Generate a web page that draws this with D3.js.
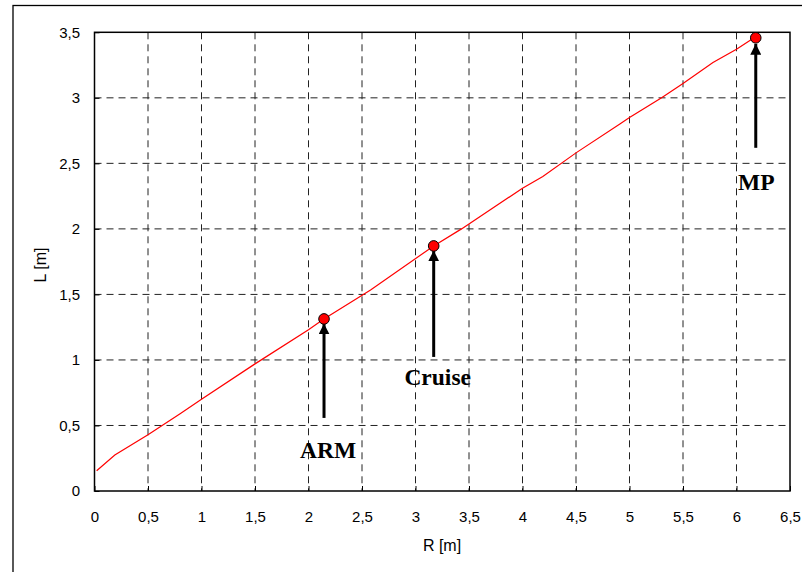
<!DOCTYPE html>
<html><head><meta charset="utf-8">
<script src="https://cdn.jsdelivr.net/npm/d3@7"></script>
<style>html,body{margin:0;padding:0;background:#fff;}svg{display:block;}</style>
</head><body>
<script>
// Data
const curveR = [0.02, 0.19, 0.5, 0.8, 1.0, 1.5, 2.0, 2.14, 2.58, 3.17, 3.43, 4.0, 4.19, 4.5, 4.91, 5.0, 5.3, 5.5, 5.78, 6.0, 6.15];
const curveL = [0.155, 0.275, 0.43, 0.59, 0.70, 0.97, 1.23, 1.31, 1.534, 1.87, 2.0, 2.31, 2.40, 2.58, 2.80, 2.85, 3.0, 3.11, 3.27, 3.37, 3.45];
const pointNames = ["ARM", "Cruise", "MP"];
const pointR = [2.145, 3.17, 6.18];
const pointL = [1.313, 1.87, 3.458];
const xTicks = [0, 0.5, 1, 1.5, 2, 2.5, 3, 3.5, 4, 4.5, 5, 5.5, 6, 6.5];
const yTicks = [0, 0.5, 1, 1.5, 2, 2.5, 3, 3.5];
const xTitle = "R [m]", yTitle = "L [m]";

// Annotation layout (pixel offsets from each point)
const annot = {
  ARM:    {tip: 4.5, tail: 99, label: 139, dx: 4},
  Cruise: {tip: 4.5, tail: 111, label: 139, dx: 4},
  MP:     {tip: 6, tail: 110, label: 152, dx: 0.5}
};

const W = 802, H = 572;
const m = {left: 94.5, top: 32.3, right: 790, bottom: 491};
const svg = d3.select("body").append("svg").attr("width", W).attr("height", H);
const fmt = d => String(d).replace(".", ",");

const x = d3.scaleLinear().domain([0, 6.5]).range([m.left, m.right]);
const y = d3.scaleLinear().domain([0, 3.5]).range([m.bottom, m.top]);

// outer border
svg.append("rect").attr("x", 13).attr("y", 5.5).attr("width", 820).attr("height", 600)
  .attr("fill", "none").attr("stroke", "#000").attr("stroke-width", 1.3);

// grid
const g = svg.append("g");
g.selectAll(".vg").data(xTicks.slice(1, -1)).enter().append("line")
  .attr("x1", d => x(d)).attr("x2", d => x(d)).attr("y1", m.top).attr("y2", m.bottom)
  .attr("stroke", "#222").attr("stroke-width", 1).attr("stroke-dasharray", "7,5");
g.selectAll(".hg").data(yTicks.slice(1, -1)).enter().append("line")
  .attr("y1", d => y(d)).attr("y2", d => y(d)).attr("x1", m.left).attr("x2", m.right)
  .attr("stroke", "#222").attr("stroke-width", 1).attr("stroke-dasharray", "7,5");

// axes
const xAxis = d3.axisBottom(x).tickValues(xTicks).tickFormat(fmt).tickSizeInner(-5).tickSizeOuter(0).tickPadding(14);
const yAxis = d3.axisLeft(y).tickValues(yTicks).tickFormat(fmt).tickSizeInner(-5).tickSizeOuter(0).tickPadding(14);
const ax = svg.append("g").attr("transform", `translate(0,${m.bottom})`).call(xAxis);
const ay = svg.append("g").attr("transform", `translate(${m.left},0)`).call(yAxis);
[ax, ay].forEach(a => {
  a.select(".domain").remove();
  a.selectAll("line").attr("stroke", "#000");
  a.selectAll("text").attr("font-family", "Liberation Sans, Arial, sans-serif").attr("font-size", 15).attr("fill", "#000");
});
ax.selectAll("text").attr("dy", "0.71em").attr("y", 20);
ay.selectAll("text").attr("x", -14.5);

// frame
svg.append("rect").attr("x", m.left).attr("y", m.top).attr("width", m.right - m.left).attr("height", m.bottom - m.top)
  .attr("fill", "none").attr("stroke", "#000").attr("stroke-width", 1.5);

// titles
svg.append("text").attr("x", 442).attr("y", 551).attr("text-anchor", "middle")
  .attr("font-family", "Liberation Sans, Arial, sans-serif").attr("font-size", 16).text(xTitle);
svg.append("text").attr("transform", "translate(46,265) rotate(-90)").attr("text-anchor", "middle")
  .attr("font-family", "Liberation Sans, Arial, sans-serif").attr("font-size", 16).text(yTitle);

// curve
const line = d3.line().x((d, i) => x(curveR[i])).y((d, i) => y(curveL[i]));
svg.append("path").datum(curveR).attr("d", line).attr("fill", "none")
  .attr("stroke", "#ff0000").attr("stroke-width", 1.2);

// arrowhead marker
svg.append("defs").append("marker").attr("id", "ah").attr("viewBox", "0 0 10 10")
  .attr("refX", 10).attr("refY", 5).attr("markerWidth", 11).attr("markerHeight", 11)
  .attr("markerUnits", "userSpaceOnUse").attr("orient", "auto")
  .append("path").attr("d", "M0,0 L10,5 L0,10 Z").attr("fill", "#000");

// points, arrows, labels
pointNames.forEach((n, i) => {
  const px = x(pointR[i]), py = y(pointL[i]);
  const a = annot[n];
  svg.append("line").attr("x1", px).attr("x2", px).attr("y1", py + a.tail).attr("y2", py + a.tip)
    .attr("stroke", "#000").attr("stroke-width", 3).attr("marker-end", "url(#ah)");
  svg.append("circle").attr("cx", px).attr("cy", py).attr("r", 5.3)
    .attr("fill", "#ff0000").attr("stroke", "#000").attr("stroke-width", 1);
  svg.append("text").attr("x", px + a.dx).attr("y", py + a.label).attr("text-anchor", "middle")
    .attr("font-family", "Liberation Serif, Times New Roman, serif").attr("font-weight", "bold")
    .attr("font-size", 23.5).attr("fill", "#000").text(n);
});
</script>
</body></html>
